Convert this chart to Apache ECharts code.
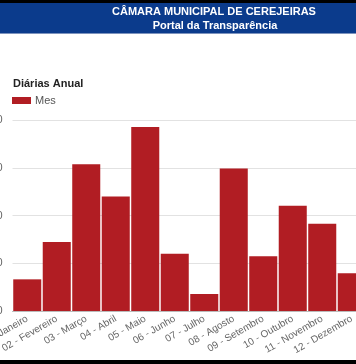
<!DOCTYPE html>
<html><head><meta charset="utf-8">
<script src="https://cdn.jsdelivr.net/npm/echarts@6/dist/echarts.min.js"></script>
<style>html,body{margin:0;padding:0;background:#fff;}#c{width:356px;height:364px;}</style>
</head><body><div id="c"></div>
<script>
const categories = ["01 - Janeiro","02 - Fevereiro","03 - Março","04 - Abril","05 - Maio","06 - Junho","07 - Julho","08 - Agosto","09 - Setembro","10 - Outubro","11 - Novembro","12 - Dezembro"];
const mesValues = [3315, 7220, 15375, 12000, 19280, 5995, 1780, 14925, 5720, 11015, 9135, 3945];
const headerLines = ["CÂMARA MUNICIPAL DE CEREJEIRAS", "Portal da Transparência"];
const chartTitle = "Diárias Anual";
const seriesName = "Mes";

const chart = echarts.init(document.getElementById('c'), null, {renderer: 'canvas'});
chart.setOption({
  animation: false,
  backgroundColor: '#fff',
  title: {
    text: chartTitle, left: 8, top: 73,
    textStyle: {fontFamily: 'Liberation Sans, Arial', fontSize: 11, fontWeight: 'bold', color: '#222'}
  },
  legend: {
    data: [seriesName], left: 7, top: 90, itemWidth: 19, itemHeight: 7, itemGap: 4,
    icon: 'rect',
    textStyle: {fontFamily: 'Liberation Sans, Arial', fontSize: 11, color: '#555', padding: [0,0,0,-1]}
  },
  graphic: [
    {type: 'rect', shape: {x: 0, y: 0, width: 356, height: 3}, style: {fill: '#000'}},
    {type: 'rect', shape: {x: 0, y: 3, width: 356, height: 30}, style: {fill: '#0b3b8c'}},
    {type: 'rect', shape: {x: 0, y: 33, width: 356, height: 1}, style: {fill: '#7d93bd'}},
    {type: 'text', x: 214, y: 12, style: {text: headerLines[0], fill: '#fff', font: 'bold 11px "Liberation Sans", Arial', align: 'center', verticalAlign: 'middle'}},
    {type: 'text', x: 215, y: 26, style: {text: headerLines[1], fill: '#fff', font: 'bold 11px "Liberation Sans", Arial', align: 'center', verticalAlign: 'middle'}},
    {type: 'rect', shape: {x: 0, y: 360, width: 356, height: 4}, style: {fill: '#000'}, z: 100}
  ],
  grid: {left: 12.5, right: -10.5, top: 120, bottom: 53, containLabel: false, outerBoundsMode: 'none'},
  xAxis: {
    type: 'category', data: categories,
    axisTick: {show: false},
    axisLine: {lineStyle: {color: '#bbb'}},
    axisLabel: {rotate: 30, interval: 0, margin: 7, fontFamily: 'Liberation Sans, Arial', fontSize: 10, color: '#666'}
  },
  yAxis: {
    type: 'value', min: 0, max: 20000, interval: 5000,
    axisLabel: {margin: 10, fontFamily: 'Liberation Sans, Arial', fontSize: 11, color: '#666'},
    splitLine: {lineStyle: {color: '#e2e2e2'}}
  },
  series: [{
    name: seriesName, type: 'bar', data: mesValues,
    barCategoryGap: '5%',
    itemStyle: {color: '#b11d23'}
  }]
});
</script></body></html>
